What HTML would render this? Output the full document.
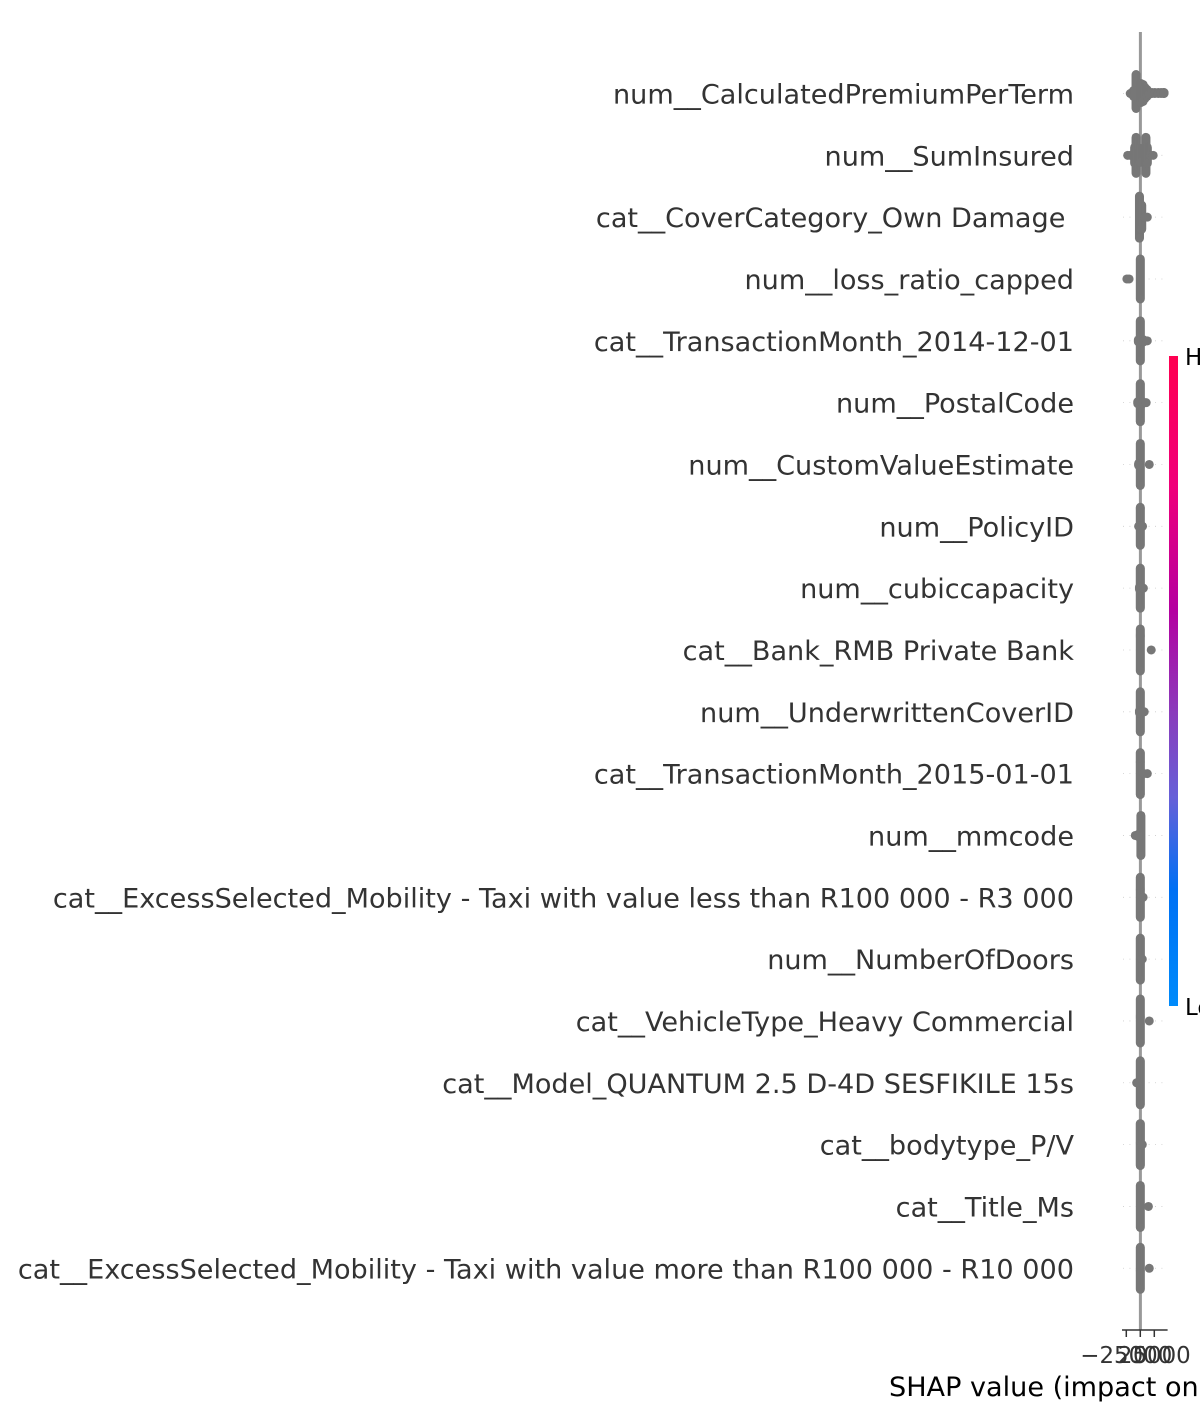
<!DOCTYPE html>
<html>
<head>
<meta charset="utf-8">
<title>SHAP summary plot</title>
<style>
html,body{margin:0;padding:0;background:#fff;width:1200px;height:1425px;overflow:hidden}
svg{display:block;font-family:"DejaVu Sans","Liberation Sans",sans-serif}
</style>
</head>
<body>
<svg id="chart" width="1200" height="1425" viewBox="0 0 1200 1425" xmlns="http://www.w3.org/2000/svg">
<defs>
<linearGradient id="cbar" x1="0" y1="1" x2="0" y2="0">
<stop offset="0" stop-color="#008bfb"/>
<stop offset="0.18" stop-color="#0070f4"/>
<stop offset="0.32" stop-color="#6660d8"/>
<stop offset="0.45" stop-color="#8a3cbc"/>
<stop offset="0.61" stop-color="#b400a0"/>
<stop offset="0.8" stop-color="#f0007a"/>
<stop offset="1" stop-color="#ff0051"/>
</linearGradient>
</defs>
<g id="grid"></g>
<line id="zero-line" x1="1140.4" x2="1140.4" y1="32" y2="1330" stroke="#999999" stroke-width="3"></line>
<g id="swarm" fill="#777777"></g>
<g id="labels" font-size="27.1" fill="#333333" text-anchor="end"></g>
<g id="axis"></g>
<text x="889" y="1396" font-size="27.08" fill="#000000">SHAP value (impact on model output)</text>
<rect x="1169" y="356" width="9" height="650" fill="url(#cbar)"></rect>
<text x="1185" y="365" font-size="22.9" fill="#000000">High</text>
<text x="1185" y="1015" font-size="22.9" fill="#000000">Low</text>
</svg>
<script>
const featureNames = [
  "num__CalculatedPremiumPerTerm",
  "num__SumInsured",
  "cat__CoverCategory_Own Damage\u00a0",
  "num__loss_ratio_capped",
  "cat__TransactionMonth_2014-12-01",
  "num__PostalCode",
  "num__CustomValueEstimate",
  "num__PolicyID",
  "num__cubiccapacity",
  "cat__Bank_RMB Private Bank",
  "num__UnderwrittenCoverID",
  "cat__TransactionMonth_2015-01-01",
  "num__mmcode",
  "cat__ExcessSelected_Mobility - Taxi with value less than R100 000 - R3 000",
  "num__NumberOfDoors",
  "cat__VehicleType_Heavy Commercial",
  "cat__Model_QUANTUM 2.5 D-4D SESFIKILE 15s",
  "cat__bodytype_P/V",
  "cat__Title_Ms",
  "cat__ExcessSelected_Mobility - Taxi with value more than R100 000 - R10 000"
];
const xTickValues = [-25000, 0, 25000];
const xTickLabels = ["\u221225000", "0", "25000"];
// Each bin: [SHAP value, points stacked above the row, points stacked below the row]
const swarmBins = [
  [[-7500,19,15],[-18000,0,0],[-14000,1,1],[-12000,3,3],[1000,10,9],[5000,9,8],[8500,6,5],[12000,4,3],[15500,1,1],[21000,1,0],[26000,1,0],[32000,1,0],[37000,1,0],[41500,1,0],[42500,1,0]],
  [[-22500,0,0],[-18000,0,0],[-10000,8,8],[-7500,18,18],[0,7,7],[10000,18,18],[12500,8,8],[18000,0,0],[23000,0,0]],
  [[-1500,21,21],[2500,12,12],[12500,0,0],[8000,0,0]],
  [[0,20,20],[-24000,0,0],[-20000,0,0]],
  [[0,20,20],[-3500,1,1],[6000,1,1],[12500,0,0]],
  [[0,19,19],[-4500,1,1],[4000,1,1],[10500,0,0]],
  [[0,21,21],[-3000,1,1],[16000,0,0]],
  [[0,19,19],[-3000,0,0],[4000,0,0]],
  [[0,20,20],[-1500,1,1],[5500,0,0]],
  [[0,21,21],[19500,0,0]],
  [[0,20,20],[-1500,1,1],[7000,0,0]],
  [[0,21,21],[6500,0,0],[12500,0,0]],
  [[1000,20,20],[-9000,0,0],[-4000,1,1]],
  [[0,20,20],[5000,0,0]],
  [[0,21,21],[3500,0,0]],
  [[0,22,22],[16000,0,0]],
  [[0,22,22],[-6500,0,0]],
  [[0,21,21],[3500,0,0]],
  [[0,21,21],[14500,0,0]],
  [[0,21,21],[16000,0,0]]
];

const SVGNS = "http://www.w3.org/2000/svg";
const X0 = 1140.3, PX_PER_UNIT = 0.00056;
const ROW0 = 93.5, ROW_STEP = 61.83;
const xScale = v => X0 + v * PX_PER_UNIT;
const yScale = i => ROW0 + i * ROW_STEP;
const mk = (tag, attrs) => {
  const el = document.createElementNS(SVGNS, tag);
  for (const k in attrs) el.setAttribute(k, attrs[k]);
  return el;
};

const gridG = document.getElementById("grid");
const swarmG = document.getElementById("swarm");
const labelG = document.getElementById("labels");
const axisG = document.getElementById("axis");

featureNames.forEach((name, i) => {
  const y = yScale(i);

  const gl = mk("line", {x1: 1123, x2: 1163, y1: y, y2: y, stroke: "#cccccc", "stroke-width": 0.8, "stroke-dasharray": "1 5.4"});
  
  
  gridG.appendChild(gl);

  const t = mk("text", {x: 1074, y: y + 10});
  
  
  t.textContent = name;
  labelG.appendChild(t);

  const row = mk("g", {});
  
  
  swarmBins[i].forEach(bin => {
    const cx = xScale(bin[0]);
    for (let k = -bin[1]; k <= bin[2]; k++) {
      const c = mk("circle", {cx: cx, cy: y + k, r: 4.5});
      
      
      row.appendChild(c);
    }
  });
  swarmG.appendChild(row);
});

const axisLine = mk("line", {x1: 1122, x2: 1167.6, y1: 1330, y2: 1330, stroke: "#333333", "stroke-width": 1.5});


axisG.appendChild(axisLine);

xTickValues.forEach((v, i) => {
  const x = xScale(v);
  const tick = mk("line", {x1: x, x2: x, y1: 1330, y2: 1337, stroke: "#333333", "stroke-width": 1.5});
  
  
  axisG.appendChild(tick);

  const lab = mk("text", {x: x, y: 1363, "font-size": 22.9, fill: "#333333", "text-anchor": "middle"});
  
  
  lab.textContent = xTickLabels[i];
  axisG.appendChild(lab);
});
</script>
</body>
</html>
